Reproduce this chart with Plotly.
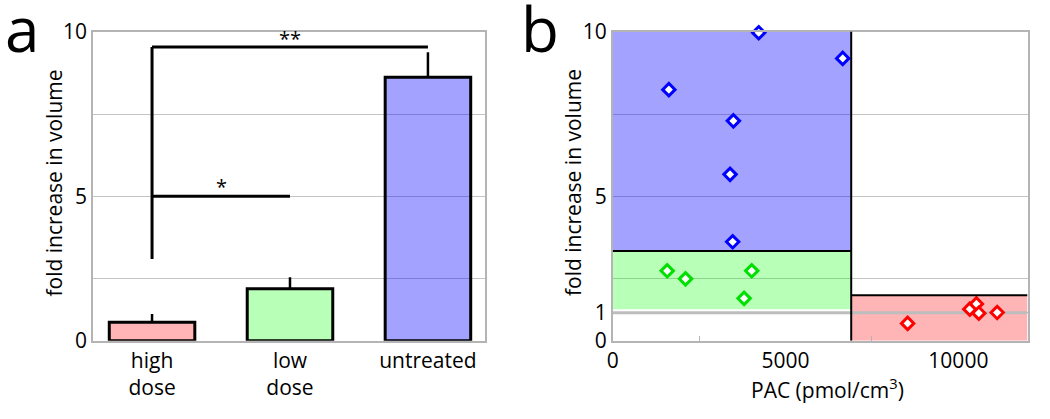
import plotly.graph_objects as go

# panel a: mean fold increase per group, with the top of each error bar
groups = ["high<br>dose", "low<br>dose", "untreated"]
bar_means = [0.60, 1.68, 8.52]
bar_err_top = [0.86, 2.05, 9.33]
bar_colors = ["rgba(255,0,0,0.29)", "rgba(0,255,0,0.28)", "rgba(0,0,255,0.36)"]

# panel b: individual tumours, PAC vs fold increase
pac_untreated = [4225, 6654, 1625, 3491, 3395, 3471]
vol_untreated = [9.96, 9.13, 8.12, 7.11, 5.38, 3.20]
pac_low = [1576, 2107, 4022, 3801]
vol_low = [2.26, 2.00, 2.26, 1.37]
pac_high = [8532, 10331, 10522, 10592, 11123]
vol_high = [0.56, 1.02, 1.19, 0.89, 0.91]

# shaded group ranges in panel b (untreated, low dose, high dose)
band_pac_lo = [0, 0, 6900]
band_pac_hi = [6900, 6900, 12000]
band_vol_lo = [2.90, 1.015, 0]
band_vol_hi = [10, 2.90, 1.468]

# y tick labels as they sit on the original axis
ytick_vals_a = [0, 4.67, 10]
ytick_text_a = ["0", "5", "10"]
ytick_vals_b = [0, 0.906, 4.67, 10]
ytick_text_b = ["0", "1", "5", "10"]
grid_minor = [2.0, 7.33]
baseline_one = 0.906

FONT = "Open Sans"
GRID = "#C4C4C4"
FRAME = "#B4B4B4"

fig = go.Figure()

fig.add_trace(go.Bar(
    x=[0, 1, 2], y=bar_means, width=0.62,
    marker=dict(color=bar_colors, line=dict(color="black", width=3)),
    error_y=dict(type="data", symmetric=False,
                 array=[t - m for t, m in zip(bar_err_top, bar_means)],
                 arrayminus=[0, 0, 0], width=0, thickness=2.5, color="black"),
    xaxis="x", yaxis="y", showlegend=False,
))

for xs, ys, col in [(pac_untreated, vol_untreated, "#0000FF"),
                    (pac_low, vol_low, "#00E000"),
                    (pac_high, vol_high, "#FF0000")]:
    fig.add_trace(go.Scatter(
        x=xs, y=ys, mode="markers", xaxis="x2", yaxis="y2",
        marker=dict(symbol="diamond", size=9.5, color="white",
                    line=dict(color=col, width=3)),
        cliponaxis=False, showlegend=False,
    ))

shapes = []
band_fill = ["rgba(0,0,255,0.36)", "rgba(0,255,0,0.28)", "rgba(255,0,0,0.29)"]
for i in range(3):
    shapes.append(dict(type="rect", xref="x2", yref="y2", layer="between",
                       x0=band_pac_lo[i], x1=band_pac_hi[i],
                       y0=band_vol_lo[i], y1=band_vol_hi[i],
                       fillcolor=band_fill[i], line=dict(width=0)))
# baseline at fold = 1
shapes.append(dict(type="line", xref="x2", yref="y2", layer="between",
                   x0=0, x1=12000, y0=baseline_one, y1=baseline_one,
                   line=dict(color="#BDBDBD", width=3)))
# black edges of the bands
shapes.append(dict(type="line", xref="x2", yref="y2", x0=band_pac_hi[0], x1=band_pac_hi[0],
                   y0=0, y1=10, line=dict(color="black", width=2)))
shapes.append(dict(type="line", xref="x2", yref="y2", x0=0, x1=band_pac_hi[0],
                   y0=band_vol_lo[0], y1=band_vol_lo[0], line=dict(color="black", width=2)))
shapes.append(dict(type="line", xref="x2", yref="y2", x0=band_pac_lo[2], x1=12000,
                   y0=band_vol_hi[2], y1=band_vol_hi[2], line=dict(color="black", width=2)))

# significance brackets in panel a
sig_top = 9.50
sig_mid = 4.67
sig_foot = 2.64
for x0, x1, y0, y1 in [(0, 0, sig_foot, sig_top), (0, 2, sig_top, sig_top), (0, 1, sig_mid, sig_mid)]:
    shapes.append(dict(type="line", xref="x", yref="y", x0=x0, x1=x1, y0=y0, y1=y1,
                       line=dict(color="black", width=3)))

txt = dict(family=FONT, color="black")
annotations = [
    dict(text="**", x=1, y=sig_top, xref="x", yref="y", yanchor="bottom", yshift=-7,
         showarrow=False, font=dict(size=20, **txt)),
    dict(text="*", x=0.5, y=sig_mid, xref="x", yref="y", yanchor="bottom", yshift=-6,
         showarrow=False, font=dict(size=20, **txt)),
    dict(text="a", x=3 / 1050, y=1 - 72 / 419, xref="paper", yref="paper",
         xanchor="left", yanchor="bottom", showarrow=False, font=dict(size=62, **txt)),
    dict(text="b", x=519 / 1050, y=1 - 72 / 419, xref="paper", yref="paper",
         xanchor="left", yanchor="bottom", showarrow=False, font=dict(size=62, **txt)),
    # axis titles, placed by hand to sit close to the tick labels
    dict(text="fold increase in volume", x=53.5 / 1050, y=1 - 183 / 419,
         xref="paper", yref="paper", xanchor="center", yanchor="middle",
         textangle=-90, showarrow=False, font=dict(size=21, **txt)),
    dict(text="fold increase in volume", x=573 / 1050, y=1 - 183 / 419,
         xref="paper", yref="paper", xanchor="center", yanchor="middle",
         textangle=-90, showarrow=False, font=dict(size=21, **txt)),
    dict(text="PAC (pmol/cm<sup>3</sup>)", x=827 / 1050, y=1 - 388 / 419,
         xref="paper", yref="paper", xanchor="center", yanchor="middle",
         showarrow=False, font=dict(size=21, **txt)),
]

ydom = [1 - 340.7 / 419, 1 - 31.5 / 419]
axis_common = dict(showline=True, mirror=True, linecolor=FRAME, linewidth=1.5,
                   zeroline=False, automargin=False,
                   tickfont=dict(size=21, **txt))

fig.update_layout(
    width=1050, height=419,
    margin=dict(l=0, r=0, t=0, b=0),
    paper_bgcolor="white", plot_bgcolor="white",
    font=dict(family=FONT, color="black"),
    shapes=shapes, annotations=annotations,
    xaxis=dict(domain=[93 / 1050, 484.5 / 1050], range=[-0.428, 2.41],
               tickmode="array", tickvals=[0, 1, 2], ticktext=groups,
               showgrid=False, ticks="", **axis_common),
    yaxis=dict(domain=ydom, range=[0, 10], tickmode="array",
               tickvals=ytick_vals_a, ticktext=ytick_text_a,
               showgrid=True, gridcolor=GRID, gridwidth=1, ticks="",
               minor=dict(tickmode="array", tickvals=grid_minor, showgrid=True,
                          gridcolor=GRID, gridwidth=1, ticks=""),
               **axis_common),
    xaxis2=dict(domain=[612.7 / 1050, 1027.5 / 1050], range=[0, 12000],
                tickmode="array", tickvals=[0, 5000, 10000],
                ticktext=["0", "5000", "10000"], showgrid=False, ticks="",
                minor=dict(tickmode="array", tickvals=[2500, 7500], ticks="inside",
                           ticklen=5, tickcolor=FRAME, tickwidth=1),
                anchor="y2", **axis_common),
    yaxis2=dict(domain=ydom, range=[0, 10], tickmode="array",
                tickvals=ytick_vals_b, ticktext=ytick_text_b,
                showgrid=True, gridcolor=GRID, gridwidth=1, ticks="",
                minor=dict(tickmode="array", tickvals=grid_minor, showgrid=True,
                           gridcolor=GRID, gridwidth=1, ticks=""),
                anchor="x2", **axis_common),
)

# drop the default 8px page margin so the figure sits at the window origin
fig.write_html("out.html", config={"displayModeBar": False},
               post_script="document.body.style.margin='0';")
